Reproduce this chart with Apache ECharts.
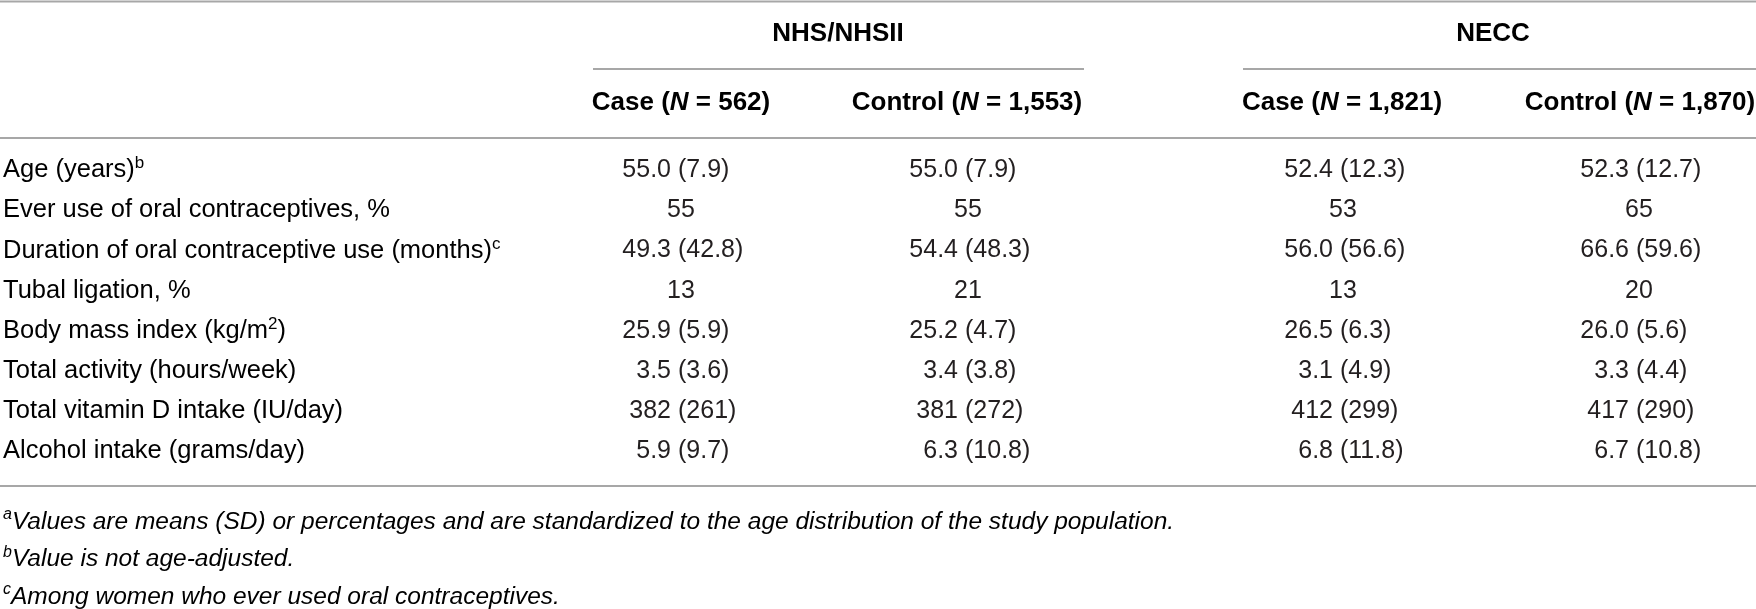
<!DOCTYPE html>
<html>
<head>
<meta charset="utf-8">
<script src="https://cdn.jsdelivr.net/npm/echarts@6/dist/echarts.min.js"></script>
<style>
  html, body { margin: 0; padding: 0; background: #fff; }
  #main { width: 1756px; height: 609px; }
</style>
</head>
<body>
<div id="main"></div>
<script>
// table content
const groupNames = ['NHS/NHSII', 'NECC']
const colNames = ['Case', 'Control', 'Case', 'Control']
const colN = ['562', '1,553', '1,821', '1,870']
const rowLabels = [
  'Age (years)^b',
  'Ever use of oral contraceptives, %',
  'Duration of oral contraceptive use (months)^c',
  'Tubal ligation, %',
  'Body mass index (kg/m^2)',
  'Total activity (hours/week)',
  'Total vitamin D intake (IU/day)',
  'Alcohol intake (grams/day)',
]
const rowDecimals = [1, 0, 1, 0, 1, 1, 0, 1]
const nhsCaseMean = [55.0, 55, 49.3, 13, 25.9, 3.5, 382, 5.9]
const nhsCaseSd = [7.9, null, 42.8, null, 5.9, 3.6, 261, 9.7]
const nhsCtrlMean = [55.0, 55, 54.4, 21, 25.2, 3.4, 381, 6.3]
const nhsCtrlSd = [7.9, null, 48.3, null, 4.7, 3.8, 272, 10.8]
const neccCaseMean = [52.4, 53, 56.0, 13, 26.5, 3.1, 412, 6.8]
const neccCaseSd = [12.3, null, 56.6, null, 6.3, 4.9, 299, 11.8]
const neccCtrlMean = [52.3, 65, 66.6, 20, 26.0, 3.3, 417, 6.7]
const neccCtrlSd = [12.7, null, 59.6, null, 5.6, 4.4, 290, 10.8]
const footnotes = [
  ['a', 'Values are means (SD) or percentages and are standardized to the age distribution of the study population.'],
  ['b', 'Value is not age-adjusted.'],
  ['c', 'Among women who ever used oral contraceptives.'],
]

;(function () {
  const W = 1756, H = 609
  const FONT = '"Liberation Sans", Arial, Helvetica, sans-serif'
  const INK = '#231f20', RULE = '#a7a7a7'
  const meanCols = [nhsCaseMean, nhsCtrlMean, neccCaseMean, neccCtrlMean]
  const sdCols = [nhsCaseSd, nhsCtrlSd, neccCaseSd, neccCtrlSd]
  // x of the "(" in each value column, header centres
  const colAnchorX = [678, 965, 1340, 1636]
  const colHeadX = [681, 967, 1342, 1640]
  const groupHeadX = [838, 1493]
  const groupRule = [[593, 1084], [1243, W]]

  const supRich = (size, italic) => ({
    t: {fontFamily: FONT, fontSize: size, fontStyle: italic ? 'italic' : 'normal', color: INK, lineHeight: 30},
    s: {fontFamily: FONT, fontSize: Math.round(size * 0.66), fontStyle: italic ? 'italic' : 'normal', color: INK, lineHeight: 16, verticalAlign: 'top'},
  })
  // "text^x" -> rich string with superscript x
  const toRich = str => str.split(/\^(.)/).map((p, i) => p === '' ? '' : (i % 2 ? `{s|${ p }}` : `{t|${ p }}`)).join('')

  const chart = echarts.init(document.getElementById('main'), null, {renderer: 'canvas'})
  const cellData = []
  meanCols.forEach((col, c) => col.forEach((v, r) => cellData.push([c, r])))

  const option = {
    backgroundColor: '#fff',
    animation: false,
    grid: {left: 0, right: 0, top: 150, bottom: 137.5},
    xAxis: {type: 'value', min: 0, max: W, show: false},
    yAxis: {type: 'category', data: rowLabels, inverse: true, show: false},
    series: [
      {
        type: 'custom', name: 'rows', data: rowLabels.map((l, r) => [0, r]), clip: false,
        renderItem(params, api) {
          const r = api.value(1), p = api.coord([3, r])
          return {type: 'text', x: p[0], y: p[1], style: {text: toRich(rowLabels[r]), rich: supRich(25.5, false), align: 'left', verticalAlign: 'middle'}}
        },
      },
      {
        type: 'custom', name: 'cells', data: cellData, clip: false,
        renderItem(params, api) {
          const c = api.value(0), r = api.value(1)
          const p = api.coord([colAnchorX[c], r])
          const dec = rowDecimals[r], mean = meanCols[c][r], sd = sdCols[c][r]
          const base = {fontFamily: FONT, fontSize: 25, fill: INK, verticalAlign: 'middle'}
          if (sd == null) {
            return {type: 'text', x: p[0] + 3, y: p[1], style: Object.assign({text: mean.toFixed(dec), align: 'center'}, base)}
          }
          return {
            type: 'group', children: [
              {type: 'text', x: p[0] - 7, y: p[1], style: Object.assign({text: mean.toFixed(dec), align: 'right'}, base)},
              {type: 'text', x: p[0], y: p[1], style: Object.assign({text: `(${ sd.toFixed(dec) })`, align: 'left'}, base)},
            ],
          }
        },
      },
    ],
    graphic: [],
  }

  const g = option.graphic
  const rule = (x1, x2, y) => g.push({type: 'line', shape: {x1, y1: y, x2, y2: y}, style: {stroke: RULE, lineWidth: 2}, silent: true})
  rule(0, W, 1.5)
  rule(0, W, 138)
  rule(0, W, 486)
  groupRule.forEach(([a, b]) => rule(a, b, 69))
  groupNames.forEach((name, i) => g.push({
    type: 'text', x: groupHeadX[i], y: 34,
    style: {text: name, fontFamily: FONT, fontSize: 26, fontWeight: 'bold', fill: '#000', align: 'center', verticalAlign: 'middle'},
  }))
  const hb = {fontFamily: FONT, fontSize: 26, fontWeight: 'bold', color: '#000'}
  colNames.forEach((name, i) => g.push({
    type: 'text', x: colHeadX[i], y: 103,
    style: {
      text: `{b|${ name } (}{i|N}{b| = ${ colN[i] })}`, align: 'center', verticalAlign: 'middle',
      rich: {b: hb, i: Object.assign({fontStyle: 'italic'}, hb)},
    },
  }))
  footnotes.forEach(([mark, txt], i) => g.push({
    type: 'text', x: 3, y: 522 + i * 37.5,
    style: {text: `{s|${ mark }}{t|${ txt }}`, rich: supRich(24.5, true), align: 'left', verticalAlign: 'middle'},
  }))

  chart.setOption(option)
})()
</script>
</body>
</html>
